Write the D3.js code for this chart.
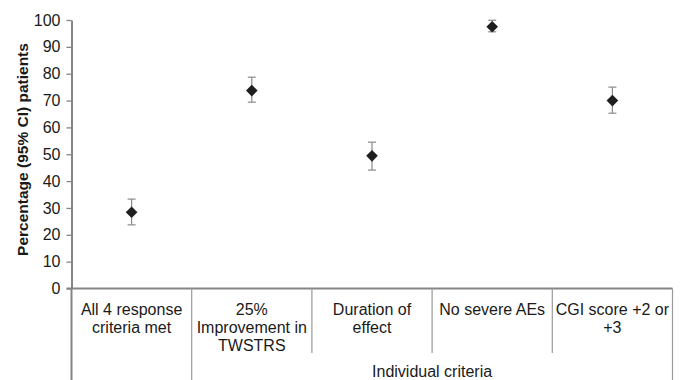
<!DOCTYPE html>
<html>
<head>
<meta charset="utf-8">
<script src="https://cdn.jsdelivr.net/npm/d3@7"></script>
<style>
  html, body { margin: 0; padding: 0; background: #fff; }
  svg { display: block; font-family: "Liberation Sans", Arial, sans-serif; }
</style>
</head>
<body>
<svg id="chart" width="684" height="380"></svg>
<script>
// ---- data ----
const categories = ["All 4 response criteria met", "25% Improvement in TWSTRS", "Duration of effect", "No severe AEs", "CGI score +2 or +3"];
const categoryLines = [["All 4 response", "criteria met"], ["25%", "Improvement in", "TWSTRS"], ["Duration of", "effect"], ["No severe AEs"], ["CGI score +2 or", "+3"]];
const values = [28.4, 73.7, 49.4, 97.5, 70.0];
const lower  = [23.7, 69.4, 44.1, 95.6, 65.3];
const upper  = [33.3, 78.7, 54.5, 99.9, 75.0];
const yTicks = [0, 10, 20, 30, 40, 50, 60, 70, 80, 90, 100];
const groupLabel = "Individual criteria";
const groupStart = 1; // group covers categories 2..5
const yTitle = "Percentage (95% CI) patients";

// ---- layout ----
const svg = d3.select("#chart");
const mLeft = 71.5, mRight = 672.5, mTop = 20, mBottom = 288.5;
const axisColor = "#858585";
const textColor = "#1a1a1a";

const x = d3.scaleBand().domain(categories).range([mLeft, mRight]).padding(0);
const y = d3.scaleLinear().domain([0, 100]).range([mBottom, mTop]);

// y axis
const yAxis = d3.axisLeft(y).tickValues(yTicks).tickSize(5).tickPadding(6).tickSizeOuter(0);
const gy = svg.append("g").attr("transform", `translate(${mLeft},0)`).call(yAxis);
gy.select(".domain").attr("stroke", axisColor).attr("stroke-width", 2);
gy.selectAll(".tick line").attr("stroke", axisColor).attr("stroke-width", 1.3);
gy.selectAll(".tick text").attr("fill", textColor).style("font-size", "16px");

// x baseline
svg.append("line")
  .attr("x1", mLeft - 5).attr("x2", mRight)
  .attr("y1", y(0)).attr("y2", y(0))
  .attr("stroke", axisColor).attr("stroke-width", 2);

// category dividers
const edges = categories.map(c => x(c)).concat([x(categories[categories.length - 1]) + x.bandwidth()]);
svg.append("g").selectAll("line").data(edges).join("line")
  .attr("x1", d => d).attr("x2", d => d)
  .attr("y1", y(0))
  .attr("y2", (d, i) => (i === 0 || i === groupStart || i === edges.length - 1) ? 380 : 353)
  .attr("stroke", (d, i) => i === 0 ? axisColor : "#9a9a9a")
  .attr("stroke-width", (d, i) => i === 0 ? 2 : 1.2);

// category labels
const lab = svg.append("g").attr("fill", textColor).style("font-size", "16px").attr("text-anchor", "middle");
categories.forEach((c, i) => {
  const t = lab.append("text").attr("x", x(c) + x.bandwidth() / 2).attr("y", 315);
  categoryLines[i].forEach((ln, j) => {
    t.append("tspan").attr("x", x(c) + x.bandwidth() / 2).attr("dy", j === 0 ? 0 : 18.2).text(ln);
  });
});

// group label
const gx0 = x(categories[groupStart]);
const gx1 = x(categories[categories.length - 1]) + x.bandwidth();
svg.append("text")
  .attr("x", (gx0 + gx1) / 2).attr("y", 376.5)
  .attr("text-anchor", "middle").attr("fill", textColor)
  .style("font-size", "16px").text(groupLabel);

// y title
svg.append("text")
  .attr("transform", `translate(28,${(43 + 256) / 2}) rotate(-90)`)
  .attr("text-anchor", "middle").attr("fill", textColor)
  .style("font-size", "15.5px").style("font-weight", "bold")
  .text(yTitle);

// error bars
const cx = i => x(categories[i]) + x.bandwidth() / 2;
const eb = svg.append("g").attr("stroke", "#8a8a8a").attr("stroke-width", 1.2);
values.forEach((v, i) => {
  eb.append("line").attr("x1", cx(i)).attr("x2", cx(i)).attr("y1", y(lower[i])).attr("y2", y(upper[i]));
  [lower[i], upper[i]].forEach(b => {
    eb.append("line").attr("x1", cx(i) - 4).attr("x2", cx(i) + 4).attr("y1", y(b)).attr("y2", y(b));
  });
});

// markers
const sym = d3.symbol().type(d3.symbolSquare).size(68);
svg.append("g").selectAll("path").data(values).join("path")
  .attr("d", sym)
  .attr("transform", (d, i) => `translate(${cx(i)},${y(d)}) rotate(45)`)
  .attr("fill", "#1e1e1e");
</script>
</body>
</html>
